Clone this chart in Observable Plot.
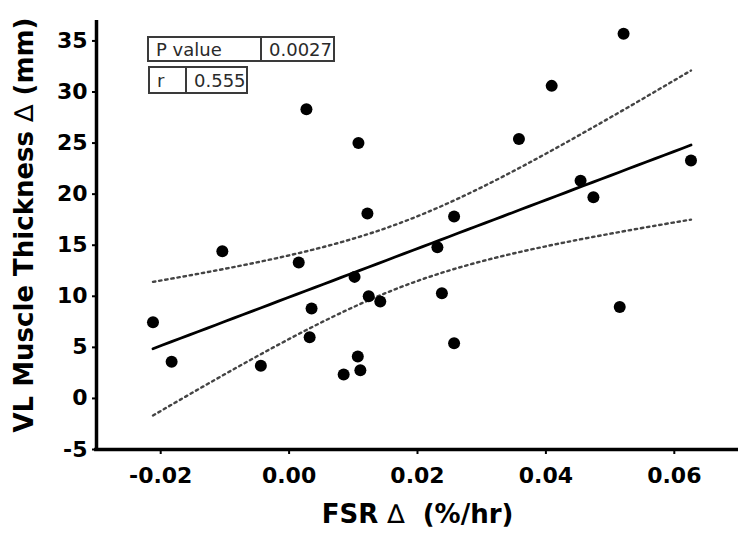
<!DOCTYPE html>
<html><head><meta charset="utf-8">
<script src="https://cdn.jsdelivr.net/npm/d3@7"></script>
<script src="https://cdn.jsdelivr.net/npm/@observablehq/plot@0.6"></script>
<style>
body{margin:0;background:#fff;}
#wrap{position:relative;width:750px;height:538px;}
.stat{position:absolute;display:flex;box-sizing:border-box;border:2px solid #3a3a3a;font-family:"DejaVu Sans",sans-serif;font-size:18px;color:#2a2a2a;}
.stat div{display:flex;align-items:center;padding-left:7px;box-sizing:border-box;height:100%;}
.stat div+div{border-left:2px solid #3a3a3a;}
</style></head><body><div id="wrap"></div>
<script>
// FSR change (%/hr) and VL muscle thickness change (mm)
const fsr = [-0.0212, -0.0183, -0.0104, -0.0044, 0.0015, 0.0027, 0.0035, 0.0032, 0.0085,
  0.0102, 0.0107, 0.0111, 0.0108, 0.0122, 0.0124, 0.0142, 0.0231, 0.0238, 0.0257, 0.0257,
  0.0358, 0.0409, 0.0454, 0.0474, 0.0515, 0.0521, 0.0626];
const thickness = [7.45, 3.6, 14.4, 3.2, 13.3, 28.3, 8.8, 6.0, 2.35,
  11.9, 4.1, 2.75, 25.0, 18.1, 10.0, 9.5, 14.8, 10.3, 17.8, 5.4,
  25.4, 30.6, 21.3, 19.7, 8.95, 35.7, 23.3];
const xTicks = [-0.02, 0, 0.02, 0.04, 0.06];
const yTicks = [-5, 0, 5, 10, 15, 20, 25, 30, 35];
const xDomain = [-0.03, 0.07];
const yDomain = [-5, 37];
const xTitle = "FSR \u2206\u00a0 (%/hr)";
const yTitle = "VL Muscle Thickness \u2206 (mm)";
const statLabels = ["P value", "r"];
const statValues = ["0.0027", "0.555"];
const tCrit = 2.0595; // t(0.975, df = 25)

const pts = fsr.map((x, i) => ({x, y: thickness[i]}));
const n = pts.length, mx = d3.mean(fsr), my = d3.mean(thickness);
const sxx = d3.sum(fsr, x => (x - mx) ** 2);
const sxy = d3.sum(pts, d => (d.x - mx) * (d.y - my));
const b = sxy / sxx, a = my - b * mx;
const s = Math.sqrt(d3.sum(pts, d => (d.y - a - b * d.x) ** 2) / (n - 2));
const [x0, x1] = d3.extent(fsr);
const fitX = d3.range(0, 61).map(i => x0 + (x1 - x0) * i / 60);
const fit = fitX.map(x => {
  const yh = a + b * x;
  const h = tCrit * s * Math.sqrt(1 / n + (x - mx) ** 2 / sxx);
  return {x, y: yh, lo: yh - h, hi: yh + h};
});

const chart = Plot.plot({
  width: 750, height: 538,
  marginLeft: 96, marginRight: 12, marginTop: 20, marginBottom: 89,
  style: {fontFamily: "DejaVu Sans, sans-serif", background: "white", color: "black"},
  x: {domain: xDomain},
  y: {domain: yDomain},
  marks: [
    Plot.axisX(xTicks, {tickFormat: d => d.toFixed(2), tickSize: 5, tickPadding: 13, fontSize: 22, fontWeight: "bold", strokeWidth: 2, label: null}),
    Plot.axisY(yTicks, {tickFormat: d => String(d), tickSize: 4, tickPadding: 5, fontSize: 22, fontWeight: "bold", strokeWidth: 2, label: null}),
    Plot.ruleY([yDomain[0]], {x1: xDomain[0] - 0.0003, x2: xDomain[1], strokeWidth: 3.5}),
    Plot.ruleX([xDomain[0]], {y1: yDomain[0], y2: yDomain[1], strokeWidth: 3.5}),
    Plot.line(fit, {x: "x", y: "hi", stroke: "#444", strokeWidth: 2.4, strokeDasharray: "2.4,3.8"}),
    Plot.line(fit, {x: "x", y: "lo", stroke: "#444", strokeWidth: 2.4, strokeDasharray: "2.4,3.8"}),
    Plot.line(fit, {x: "x", y: "y", stroke: "black", strokeWidth: 2.8}),
    Plot.dot(pts, {x: "x", y: "y", r: 6, fill: "black"}),
    Plot.text([yTitle], {text: d => d, frameAnchor: "left", textAnchor: "middle", lineAnchor: "middle", rotate: -90, dx: -72, dy: -10, fontSize: 26, fontWeight: "bold"}),
    Plot.text([xTitle], {text: d => d, frameAnchor: "bottom", textAnchor: "middle", lineAnchor: "middle", dy: 65, fontSize: 26, fontWeight: "bold"})
  ]
});

// thinner delta glyph as in the original
d3.select(chart).selectAll("text").each(function() {
  const t = this.textContent;
  if (!t.includes("\u2206")) return;
  const parts = t.split("\u2206");
  const sel = d3.select(this);
  sel.text(null);
  parts.forEach((p, i) => {
    if (i > 0) sel.append("tspan").attr("font-weight", "normal").text("\u2206");
    sel.append("tspan").text(p);
  });
});

const wrap = document.getElementById("wrap");
wrap.appendChild(chart);

// statistics table
const boxes = [
  {left: 147, top: 36, w: 188, h: 26, w1: 111},
  {left: 148, top: 66, w: 100, h: 28, w1: 35}
];
boxes.forEach((bx, i) => {
  const div = document.createElement("div");
  div.className = "stat";
  Object.assign(div.style, {left: bx.left + "px", top: bx.top + "px", width: bx.w + "px", height: bx.h + "px"});
  const c1 = document.createElement("div");
  c1.style.width = bx.w1 + "px";
  c1.textContent = statLabels[i];
  const c2 = document.createElement("div");
  c2.style.flex = "1";
  c2.textContent = statValues[i];
  div.append(c1, c2);
  wrap.appendChild(div);
});
</script></body></html>
